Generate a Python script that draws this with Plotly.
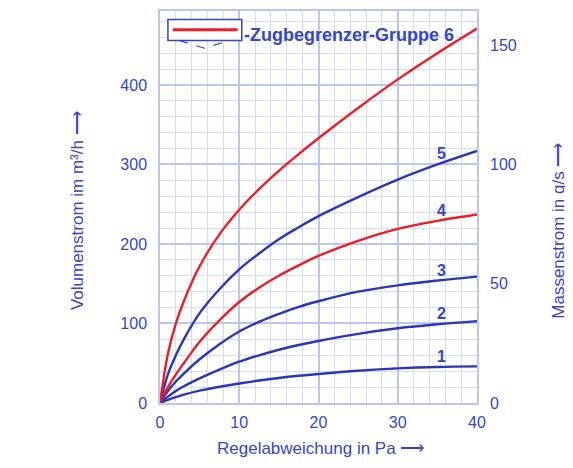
import plotly.graph_objects as go

# Regelabweichung in Pa
dp = [0, 1, 2, 3, 5, 7.5, 10, 12.5, 15, 17.5, 20, 25, 30, 35, 40]

# Volumenstrom in m3/h for curves 1..6
curve1 = [0, 4, 7.5, 10.5, 15.5, 20.5, 24.5, 28.3, 31.5, 34.2, 36.5, 40.5, 43.5, 45.3, 46]
curve2 = [0, 8, 15, 21, 31, 42, 52, 60, 67, 73, 78, 87, 94, 99, 103]
curve3 = [0, 15, 27, 37, 55, 74, 90, 102, 112, 121, 128, 140, 148, 154, 159]
curve4 = [0, 20, 36, 50, 77, 104, 127, 145, 160, 173, 185, 204, 219, 229, 237]
curve5 = [0, 36, 60, 80, 113, 143, 168, 188, 206, 221, 235, 259, 281, 300, 317]
curve6 = [0, 62, 100, 128, 172, 212, 243, 269, 292, 313, 333, 371, 407, 440, 471]

curve_names = ["1", "2", "3", "4", "5", "6"]
curve_colors = ["#2a36b8", "#2a36b8", "#2a36b8", "#ee1c25", "#2a36b8", "#ee1c25"]
label_x = 35.5

y_left_ticks = [0, 100, 200, 300, 400]
y_right_ticks = [0, 50, 100, 150]
x_ticks = [0, 10, 20, 30, 40]

Y_MAX = 493
X_MAX = 40

TXT = "#3346c8"
FONT = "Liberation Sans"

fig = go.Figure()
curves = [curve1, curve2, curve3, curve4, curve5, curve6]
for name, vals, col in zip(curve_names, curves, curve_colors):
    fig.add_trace(go.Scatter(x=dp, y=vals, mode="lines", name=name,
                             line=dict(color=col, width=2.4, shape="spline", smoothing=1.0),
                             showlegend=False, hoverinfo="skip"))

# dummy trace for right axis
fig.add_trace(go.Scatter(x=[0], y=[0], yaxis="y2", mode="markers",
                         marker=dict(opacity=0), showlegend=False, hoverinfo="skip"))

# curve number labels (1..5)
for name, vals in zip(curve_names[:5], curves[:5]):
    yv = vals[dp.index(35)]
    fig.add_annotation(x=label_x, y=yv, text="<b>%s</b>" % name, showarrow=False,
                       xanchor="center", yanchor="bottom", yshift=0,
                       font=dict(family=FONT, size=16, color=TXT))

# title inside plot
fig.add_annotation(x=0.259, y=0.94, xref="paper", yref="paper",
                   text="<b>-Zugbegrenzer-Gruppe 6</b>", showarrow=False,
                   xanchor="left", yanchor="middle",
                   font=dict(family=FONT, size=18, color=TXT))

# logo shapes
fig.add_shape(type="rect", xref="paper", yref="paper", x0=0.025, x1=0.258, y0=0.925, y1=0.978,
              line=dict(color=TXT, width=1.5), fillcolor="rgba(255,255,255,0.9)")
fig.add_shape(type="path", xref="paper", yref="paper",
              path="M 0.06,0.925 L 0.14,0.905 L 0.22,0.925",
              line=dict(color=TXT, width=1.2, dash="dash"))
fig.add_shape(type="line", xref="paper", yref="paper", x0=0.04, x1=0.245, y0=0.952, y1=0.952,
              line=dict(color="#ee1c25", width=3))

# axis titles
fig.add_annotation(x=-0.262, y=0.492, xref="paper", yref="paper",
                   text="Volumenstrom im m³/h ⟶", textangle=-90, showarrow=False,
                   font=dict(family=FONT, size=17, color=TXT), xanchor="center", yanchor="middle")
fig.add_annotation(x=1.258, y=0.439, xref="paper", yref="paper",
                   text="Massenstrom in g/s ⟶", textangle=-90, showarrow=False,
                   font=dict(family=FONT, size=17, color=TXT), xanchor="center", yanchor="middle")
fig.add_annotation(x=0.505, y=-0.117, xref="paper", yref="paper",
                   text="Regelabweichung in Pa ⟶", showarrow=False,
                   font=dict(family=FONT, size=17, color=TXT), xanchor="center", yanchor="middle")

grid_minor = "#d3dcf6"
grid_major = "#b9c6f0"

fig.update_layout(
    width=565, height=452,
    margin=dict(l=152, r=96, t=3, b=57, autoexpand=False),
    paper_bgcolor="white", plot_bgcolor="white",
    font=dict(family=FONT, size=16, color=TXT),
    xaxis=dict(range=[0, X_MAX], tickvals=x_ticks, ticktext=[str(v) for v in x_ticks],
               showgrid=True, gridcolor=grid_major, gridwidth=1.5,
               minor=dict(dtick=2, showgrid=True, gridcolor=grid_minor, gridwidth=1),
               showline=True, linecolor=grid_major, linewidth=1.5, mirror=True,
               zeroline=False, ticks="", ticklabelstandoff=4, automargin=False,
               tickfont=dict(family=FONT, size=16, color=TXT)),
    yaxis=dict(range=[0, Y_MAX], tickvals=y_left_ticks, ticktext=[str(v) for v in y_left_ticks],
               showgrid=True, gridcolor=grid_major, gridwidth=1.5,
               minor=dict(dtick=20, showgrid=True, gridcolor=grid_minor, gridwidth=1),
               showline=True, linecolor=grid_major, linewidth=1.5, mirror=True,
               zeroline=False, ticks="", ticklabelstandoff=8, automargin=False,
               tickfont=dict(family=FONT, size=16, color=TXT)),
    yaxis2=dict(range=[0, Y_MAX / 3], overlaying="y", side="right",
                tickvals=y_right_ticks, ticktext=[str(v) for v in y_right_ticks],
                showgrid=False, zeroline=False, showline=False, ticks="",
                ticklabelstandoff=12, automargin=False,
                tickfont=dict(family=FONT, size=16, color=TXT)),
)

fig.write_html("out.html")
